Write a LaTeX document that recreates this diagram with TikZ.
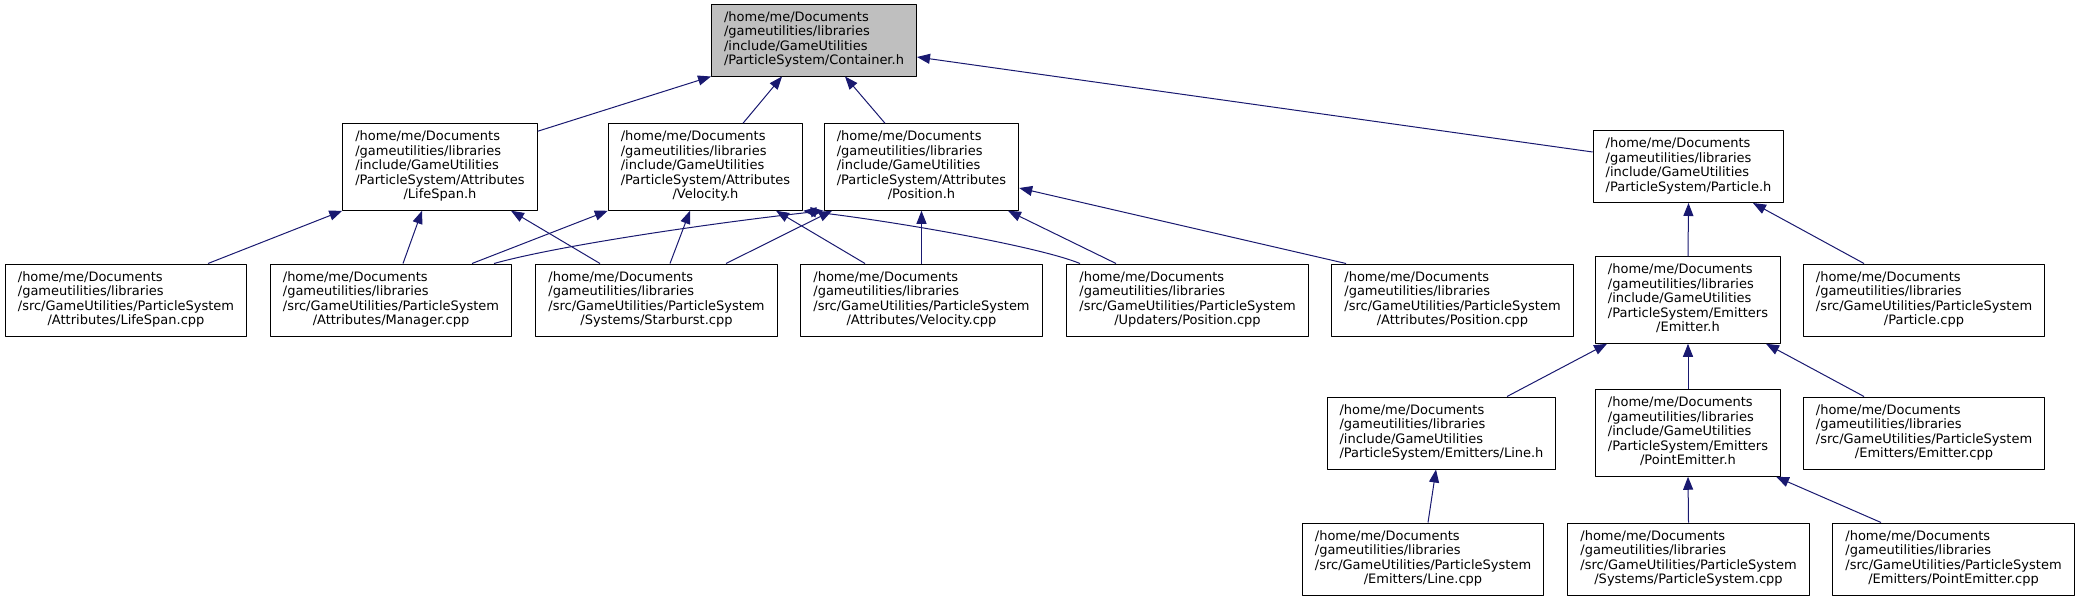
\documentclass[tikz,border=0pt]{standalone}
\usepackage{fontspec}
\setmainfont{DejaVu Sans}
\usetikzlibrary{arrows.meta}
\definecolor{edgeblue}{HTML}{191970}
\definecolor{boxgray}{HTML}{BFBFBF}
% all lines left, the last one centred
\newcommand{\flines}[2]{\begin{tabular}{@{}l@{}}#1\\\multicolumn{1}{@{}c@{}}{#2}\end{tabular}}
\newcommand{\incpath}{/home/me/Documents\\/gameutilities/libraries\\/include/GameUtilities}
\newcommand{\srcpath}{/home/me/Documents\\/gameutilities/libraries\\/src/GameUtilities/ParticleSystem}

\begin{document}
\begin{tikzpicture}[x=1pt,y=-1pt,line join=round,
  file/.style={draw,line width=1pt,fill=white,inner xsep=12.5pt,inner ysep=7pt,
    font=\fontsize{13}{14.5}\selectfont},
  topfile/.style={file,fill=boxgray},
  dep/.style={edgeblue,line width=1pt,-{Triangle[length=13pt,width=10pt]}}]
  \useasboundingbox (0,0) rectangle (2080,600);
  % row 0
  \node[topfile] (cont) at (814,40) {\flines{\incpath}{/ParticleSystem/Container.h}};
  % row 1
  \node[file] (lsh) at (440,167) {\flines{\incpath\\/ParticleSystem/Attributes}{/LifeSpan.h}};
  \node[file] (vh) at (705.5,167) {\flines{\incpath\\/ParticleSystem/Attributes}{/Velocity.h}};
  \node[file] (ph) at (921.5,167) {\flines{\incpath\\/ParticleSystem/Attributes}{/Position.h}};
  \node[file] (pah) at (1688.5,166.5) {\flines{\incpath}{/ParticleSystem/Particle.h}};
  % row 2
  \node[file] (lsc) at (126,300) {\flines{\srcpath}{/Attributes/LifeSpan.cpp}};
  \node[file] (mgr) at (391,300) {\flines{\srcpath}{/Attributes/Manager.cpp}};
  \node[file] (sb) at (656.5,300) {\flines{\srcpath}{/Systems/Starburst.cpp}};
  \node[file] (vc) at (921.5,300) {\flines{\srcpath}{/Attributes/Velocity.cpp}};
  \node[file] (upc) at (1187.5,300) {\flines{\srcpath}{/Updaters/Position.cpp}};
  \node[file] (apc) at (1452.5,300) {\flines{\srcpath}{/Attributes/Position.cpp}};
  \node[file] (emh) at (1688,300) {\flines{\incpath\\/ParticleSystem/Emitters}{/Emitter.h}};
  \node[file] (pac) at (1924,300) {\flines{\srcpath}{/Particle.cpp}};
  % row 3
  \node[file] (lnh) at (1441.5,433) {\flines{\incpath}{/ParticleSystem/Emitters/Line.h}};
  \node[file] (peh) at (1688,433) {\flines{\incpath\\/ParticleSystem/Emitters}{/PointEmitter.h}};
  \node[file] (emc) at (1924,433) {\flines{\srcpath}{/Emitters/Emitter.cpp}};
  % row 4
  \node[file] (lnc) at (1423,559) {\flines{\srcpath}{/Emitters/Line.cpp}};
  \node[file] (psc) at (1688.5,559) {\flines{\srcpath}{/Systems/ParticleSystem.cpp}};
  \node[file] (pec) at (1953.5,559) {\flines{\srcpath}{/Emitters/PointEmitter.cpp}};

  % includes, arrow at the included file
  \draw[dep] ([yshift=-8]lsh.north east) -- (cont.south west);
  \draw[dep] ([xshift=37.5]vh.north) -- ([xshift=-32]cont.south);
  \draw[dep] ([xshift=-36.5]ph.north) -- ([xshift=31]cont.south);
  \draw[dep] ([yshift=14.5]pah.west) -- ([yshift=-17]cont.east);

  \draw[dep] ([xshift=82]lsc.north) -- (lsh.south west);
  \draw[dep] ([xshift=12]mgr.north) -- ([xshift=-18]lsh.south);
  \draw[dep] ([xshift=-56.5]sb.north) -- ([xshift=71]lsh.south);

  \draw[dep] ([xshift=81]mgr.north) -- (vh.south west);
  \draw[dep] ([xshift=13.5]sb.north) -- ([xshift=-15.5]vh.south);
  \draw[dep] ([xshift=-56.5]vc.north) -- ([xshift=70.5]vh.south);
  \draw[dep] ([xshift=-107.5]upc.north) .. controls (1040,247) and (900,222) .. (vh.south east);

  \draw[dep] ([xshift=103]mgr.north) .. controls (560,245) and (720,222) .. (ph.south west);
  \draw[dep] ([xshift=69.5]sb.north) -- ([xshift=-89.5]ph.south);
  \draw[dep] (vc.north) -- (ph.south);
  \draw[dep] ([xshift=-71.5]upc.north) -- ([xshift=86.5]ph.south);
  \draw[dep] ([xshift=-106.5]apc.north) -- ([yshift=-21]ph.east);

  \draw[dep] (emh.north) -- (pah.south);
  \draw[dep] ([xshift=-60]pac.north) -- ([xshift=64.5]pah.south);

  \draw[dep] ([xshift=65.5]lnh.north) -- ([xshift=-81]emh.south);
  \draw[dep] (peh.north) -- (emh.south);
  \draw[dep] ([xshift=-60]emc.north) -- ([xshift=78]emh.south);

  \draw[dep] ([xshift=5]lnc.north) -- ([xshift=-5.5]lnh.south);
  \draw[dep] (psc.north) -- (peh.south);
  \draw[dep] ([xshift=-72.5]pec.north) -- ([xshift=88]peh.south);
\end{tikzpicture}
\end{document}
